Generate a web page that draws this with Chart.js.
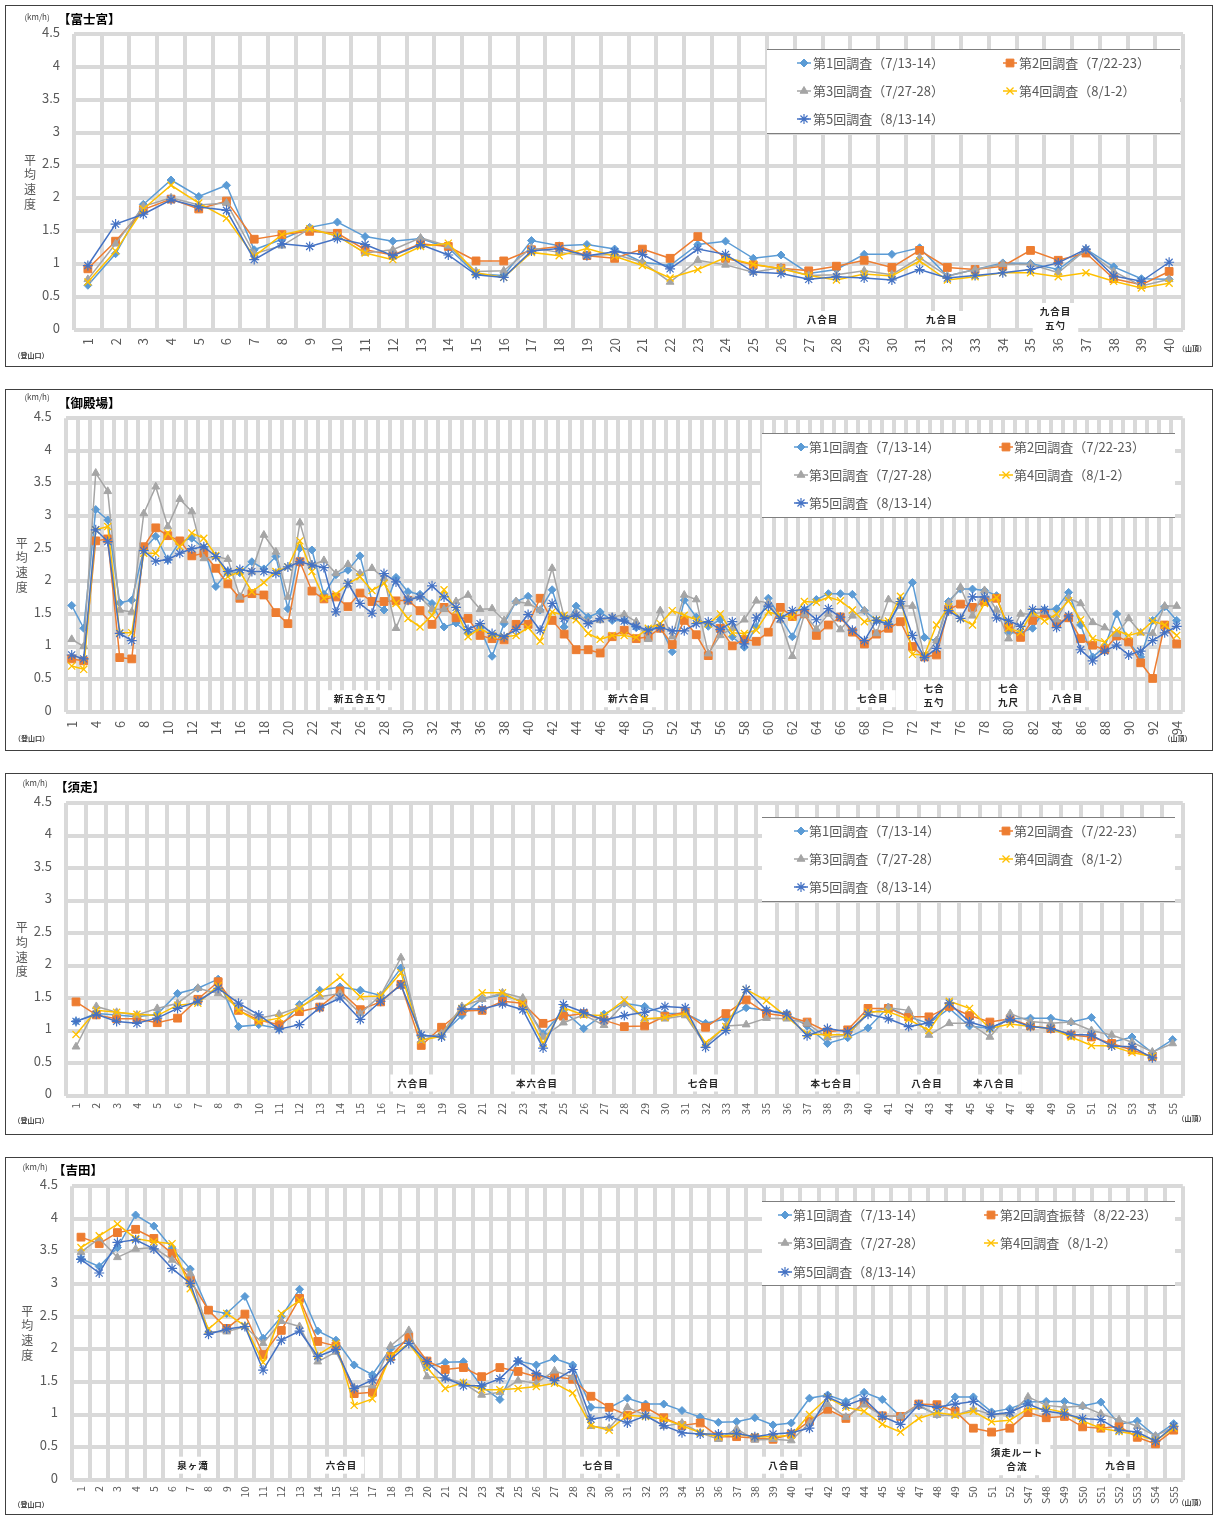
<!DOCTYPE html>
<html>
<head>
<meta charset="utf-8">
<script src="https://cdn.jsdelivr.net/npm/chart.js@4.4.1/dist/chart.umd.min.js"></script>
<style>
  html, body { margin: 0; padding: 0; background: #fff; }
  body { width: 1213px; height: 1515px; position: relative; overflow: hidden; }
  .panel { position: absolute; left: 5px; width: 1208px; height: 362px; border: 1px solid #404040; box-sizing: border-box; background: #fff; }
  .panel canvas { position: absolute; left: 0; top: 0; }
</style>
</head>
<body>
<div class="panel" style="top:5px"><canvas id="c1" width="1206" height="360"></canvas></div>
<div class="panel" style="top:389px"><canvas id="c2" width="1206" height="360"></canvas></div>
<div class="panel" style="top:773px"><canvas id="c3" width="1206" height="360"></canvas></div>
<div class="panel" style="top:1157px;height:358px"><canvas id="c4" width="1206" height="356"></canvas></div>
<script>
// ---- legend names ----
const namesA = ['第1回調査（7/13-14）', '第2回調査（7/22-23）', '第3回調査（7/27-28）', '第4回調査（8/1-2）', '第5回調査（8/13-14）'];
const namesYoshida = ['第1回調査（7/13-14）', '第2回調査振替（8/22-23）', '第3回調査（7/27-28）', '第4回調査（8/1-2）', '第5回調査（8/13-14）'];

// ---- 富士宮 ----
const fujiLabels = ['1','2','3','4','5','6','7','8','9','10','11','12','13','14','15','16','17','18','19','20',
  '21','22','23','24','25','26','27','28','29','30','31','32','33','34','35','36','37','38','39','40'];
const fujiS1 = [0.68,1.16,1.91,2.28,2.03,2.2,1.22,1.38,1.56,1.64,
  1.42,1.35,1.39,1.25,0.85,0.83,1.36,1.28,1.3,1.23,
  1.03,0.98,1.3,1.35,1.09,1.14,0.86,0.92,1.15,1.15,
  1.25,0.82,0.92,1.02,1.01,0.92,1.23,0.96,0.78,0.77];
const fujiS2 = [0.93,1.35,1.83,1.99,1.84,1.96,1.38,1.45,1.5,1.47,
  1.22,1.14,1.31,1.27,1.05,1.05,1.22,1.27,1.13,1.09,
  1.23,1.09,1.42,1.09,0.99,0.94,0.9,0.97,1.06,0.95,
  1.21,0.95,0.92,0.97,1.21,1.06,1.17,0.78,0.69,0.89];
const fujiS3 = [0.77,1.31,1.88,2.01,1.9,1.93,1.16,1.28,1.54,1.43,
  1.17,1.22,1.4,1.28,0.89,0.9,1.25,1.18,1.13,1.15,
  1.03,0.73,1.06,0.99,0.88,0.95,0.83,0.84,0.9,0.84,
  1.1,0.82,0.92,1.0,1.0,0.87,1.22,0.89,0.67,0.77];
const fujiS4 = [0.73,1.2,1.84,2.2,1.93,1.7,1.12,1.45,1.54,1.43,
  1.17,1.07,1.27,1.32,0.87,0.8,1.18,1.13,1.24,1.12,
  0.98,0.79,0.92,1.1,1.0,0.93,0.83,0.76,0.85,0.82,
  1.05,0.76,0.81,0.87,0.87,0.81,0.87,0.74,0.64,0.71];
const fujiS5 = [0.98,1.61,1.76,1.98,1.87,1.82,1.07,1.31,1.27,1.39,
  1.3,1.13,1.3,1.14,0.84,0.8,1.2,1.24,1.13,1.19,
  1.15,0.93,1.23,1.15,0.88,0.86,0.77,0.81,0.79,0.76,
  0.92,0.79,0.83,0.87,0.92,1.02,1.23,0.82,0.74,1.03];
const fujiMarks = [
  { at: 26.5, text: '八合目' },
  { at: 30.8, text: '九合目' },
  { at: 34.9, text: '九合目\n五勺' }
];

// ---- 御殿場 ----
const gotenLabels = ['1','2','4','5','6','7','8','9','10','11',
  '12','13','14','15','16','17','18','19','20','21',
  '22','23','24','25','26','27','28','29','30','31',
  '32','33','34','35','36','37','38','39','40','41',
  '42','43','44','45','46','47','48','49','50','51',
  '52','53','54','55','56','57','58','59','60','61',
  '62','63','64','65','66','67','68','69','70','71',
  '72','73','74','75','76','77','78','79','80','81',
  '82','83','84','85','86','87','88','89','90','91',
  '92','93','94'];
const gotenS1 = [1.63,1.28,3.1,2.94,1.67,1.71,2.49,2.69,2.33,2.61,
  2.66,2.51,1.92,2.15,2.13,2.3,2.19,2.38,1.58,2.51,
  2.48,1.8,2.1,2.17,2.39,1.7,1.56,2.06,1.84,1.8,
  1.66,1.3,1.36,1.2,1.28,0.85,1.35,1.69,1.77,1.56,
  1.87,1.3,1.62,1.45,1.53,1.4,1.4,1.29,1.25,1.31,
  0.92,1.71,1.45,1.31,1.41,1.15,0.99,1.3,1.74,1.45,
  1.15,1.56,1.72,1.81,1.81,1.8,1.55,1.4,1.35,1.66,
  1.98,1.14,1.09,1.69,1.88,1.88,1.86,1.78,1.21,1.21,
  1.28,1.56,1.58,1.83,1.33,0.84,0.99,1.5,1.07,0.84,
  1.4,1.61,1.4];
const gotenS2 = [0.81,0.78,2.62,2.65,0.83,0.81,2.53,2.82,2.7,2.62,
  2.39,2.43,2.2,1.96,1.74,1.81,1.79,1.52,1.35,2.3,
  1.85,1.73,1.76,1.61,1.82,1.69,1.69,1.7,1.71,1.55,
  1.34,1.6,1.44,1.43,1.17,1.12,1.1,1.34,1.34,1.74,
  1.4,1.19,0.95,0.95,0.9,1.15,1.25,1.12,1.15,1.28,
  1.03,1.4,1.18,0.86,1.28,1.01,1.11,1.08,1.22,1.6,
  1.46,1.5,1.17,1.33,1.45,1.22,1.04,1.19,1.28,1.38,
  1.0,0.84,0.87,1.57,1.65,1.6,1.69,1.74,1.3,1.14,
  1.4,1.5,1.35,1.44,1.12,1.02,0.95,1.16,1.07,0.75,
  0.51,1.33,1.04];
const gotenS3 = [1.11,1.0,3.66,3.38,1.56,1.53,3.04,3.45,2.84,3.26,
  3.07,2.35,2.38,2.34,1.76,2.15,2.71,2.45,1.76,2.9,
  2.25,2.32,2.12,2.26,2.12,2.2,2.05,1.28,1.74,1.76,
  1.57,1.57,1.69,1.79,1.57,1.58,1.4,1.69,1.66,1.56,
  2.2,1.45,1.51,1.38,1.4,1.45,1.49,1.38,1.11,1.55,
  1.15,1.79,1.72,0.89,1.17,1.28,1.41,1.7,1.67,1.4,
  0.85,1.49,1.27,1.5,1.26,1.47,1.55,1.2,1.72,1.62,
  1.62,0.84,1.09,1.66,1.91,1.47,1.86,1.56,1.12,1.5,
  1.5,1.53,1.41,1.74,1.66,1.37,1.29,1.19,1.43,1.21,
  1.2,1.62,1.62];
const gotenS4 = [0.7,0.65,2.79,2.84,1.21,1.21,2.43,2.43,2.74,2.53,
  2.74,2.66,2.4,2.07,2.15,1.84,1.98,2.15,2.22,2.62,
  2.15,1.74,1.8,1.96,2.07,1.86,1.97,1.66,1.43,1.3,
  1.48,1.87,1.56,1.15,1.28,1.17,1.15,1.17,1.29,1.08,
  1.53,1.48,1.41,1.2,1.11,1.17,1.17,1.14,1.28,1.35,
  1.55,1.48,1.41,1.34,1.5,1.21,1.2,1.25,1.53,1.48,
  1.45,1.69,1.68,1.76,1.7,1.56,1.38,1.41,1.39,1.77,
  0.88,0.87,1.33,1.61,1.43,1.33,1.66,1.75,1.28,1.22,
  1.53,1.39,1.5,1.7,1.41,1.12,1.07,1.25,1.17,1.22,
  1.39,1.33,1.17];
const gotenS5 = [0.87,0.81,2.79,2.61,1.2,1.09,2.47,2.31,2.33,2.43,
  2.5,2.53,2.38,2.15,2.18,2.15,2.15,2.12,2.22,2.3,
  2.25,2.21,1.53,1.97,1.66,1.51,2.12,1.99,1.71,1.76,
  1.93,1.76,1.6,1.26,1.35,1.2,1.15,1.26,1.49,1.25,
  1.66,1.43,1.48,1.35,1.43,1.44,1.39,1.31,1.25,1.29,
  1.24,1.24,1.35,1.38,1.26,1.38,1.04,1.44,1.62,1.43,
  1.55,1.57,1.41,1.58,1.45,1.25,1.09,1.4,1.34,1.69,
  1.17,0.83,0.97,1.55,1.43,1.76,1.76,1.44,1.4,1.31,
  1.57,1.57,1.29,1.47,0.95,0.78,0.93,1.02,0.87,0.93,
  1.09,1.21,1.31];
const gotenMarks = [
  { at: 24, text: '新五合五勺' },
  { at: 46.4, text: '新六合目' },
  { at: 66.7, text: '七合目' },
  { at: 71.8, text: '七合\n五勺' },
  { at: 78, text: '七合\n九尺' },
  { at: 82.9, text: '八合目' }
];

// ---- 須走 ----
const subaLabels = ['1','2','3','4','5','6','7','8','9','10','11','12','13','14','15','16','17','18','19','20',
  '21','22','23','24','25','26','27','28','29','30','31','32','33','34','35','36','37','38','39','40',
  '41','42','43','44','45','46','47','48','49','50','51','52','53','54','55'];
const subaS1 = [1.14,1.26,1.24,1.21,1.25,1.57,1.65,1.79,1.06,1.09,
  1.03,1.4,1.62,1.67,1.62,1.54,1.96,0.91,0.93,1.23,
  1.49,1.55,1.44,0.95,1.31,1.03,1.25,1.42,1.37,1.26,
  1.26,1.11,1.18,1.35,1.31,1.26,1.07,0.8,0.89,1.04,
  1.36,1.21,1.11,1.34,1.07,1.03,1.18,1.19,1.19,1.13,
  1.2,0.82,0.9,0.66,0.86];
const subaS2 = [1.44,1.24,1.18,1.18,1.12,1.19,1.48,1.75,1.31,1.16,
  1.09,1.29,1.36,1.61,1.32,1.44,1.71,0.77,1.05,1.3,
  1.31,1.45,1.42,1.11,1.22,1.26,1.16,1.06,1.07,1.22,
  1.28,1.05,1.26,1.47,1.26,1.22,1.13,0.98,1.01,1.34,
  1.34,1.21,1.21,1.37,1.23,1.13,1.18,1.07,1.03,0.93,
  0.9,0.8,0.7,0.6,null];
const subaS3 = [0.75,1.37,1.28,1.24,1.34,1.42,1.65,1.57,1.36,1.19,
  1.25,1.36,1.52,1.57,1.26,1.54,2.12,0.85,0.95,1.37,
  1.48,1.58,1.5,0.9,1.12,1.24,1.08,1.42,1.18,1.18,
  1.23,0.77,1.07,1.09,1.19,1.18,1.11,0.89,0.93,1.26,
  1.35,1.31,0.93,1.11,1.11,0.9,1.26,1.14,1.11,1.13,
  1.0,0.93,0.82,0.67,0.8];
const subaS4 = [0.94,1.31,1.28,1.25,1.23,1.39,1.42,1.69,1.31,1.13,
  1.19,1.34,1.57,1.82,1.52,1.53,1.89,0.85,0.91,1.34,
  1.58,1.58,1.42,0.8,1.35,1.24,1.23,1.47,1.18,1.2,
  1.26,0.81,1.06,1.63,1.46,1.21,0.95,0.93,0.94,1.29,
  1.29,1.17,1.0,1.45,1.34,1.03,1.1,1.06,1.03,0.9,
  0.77,0.76,0.66,0.6,null];
const subaS5 = [1.14,1.25,1.14,1.11,1.19,1.34,1.45,1.65,1.42,1.24,
  1.02,1.09,1.35,1.5,1.17,1.45,1.7,0.93,0.9,1.33,
  1.33,1.41,1.32,0.73,1.4,1.28,1.16,1.23,1.28,1.37,
  1.35,0.74,1.0,1.63,1.31,1.25,0.92,1.03,0.98,1.25,
  1.18,1.06,1.12,1.42,1.13,1.04,1.17,1.06,1.03,0.94,
  0.93,0.76,0.75,0.58,null];
const subaMarks = [
  { at: 16.6, text: '六合目' },
  { at: 22.7, text: '本六合目' },
  { at: 30.9, text: '七合目' },
  { at: 37.2, text: '本七合目' },
  { at: 41.9, text: '八合目' },
  { at: 45.2, text: '本八合目' }
];

// ---- 吉田 ----
const yoshiLabels = ['1','2','3','4','5','6','7','8','9','10','11','12','13','14','15','16','17','18','19','20',
  '21','22','23','24','25','26','27','28','29','30','31','32','33','34','35','36','37','38','39','40',
  '41','42','43','44','45','46','47','48','49','50','51','52',
  'S47','S48','S49','S50','S51','S52','S53','S54','S55'];
const yoshiS1 = [3.39,3.27,3.56,4.06,3.89,3.55,3.23,2.6,2.55,2.81,
  2.17,2.5,2.92,2.28,2.14,1.76,1.61,2.01,2.14,1.73,
  1.8,1.81,1.43,1.23,1.82,1.76,1.86,1.76,1.11,1.1,
  1.25,1.16,1.16,1.06,0.96,0.88,0.89,0.95,0.84,0.87,
  1.25,1.3,1.2,1.34,1.23,0.97,1.13,1.0,1.27,1.27,
  1.04,1.09,1.19,1.2,1.2,1.13,1.19,0.85,0.9,0.67,0.86];
const yoshiS2 = [3.72,3.62,3.79,3.84,3.7,3.47,3.06,2.6,2.32,2.54,
  1.92,2.29,2.78,2.12,2.05,1.32,1.34,1.89,2.19,1.82,
  1.69,1.72,1.58,1.72,1.66,1.58,1.58,1.54,1.28,1.11,
  0.99,1.11,0.95,0.83,0.87,0.66,0.66,0.64,0.62,0.7,
  0.9,1.08,0.94,1.18,0.98,0.97,1.16,1.15,1.05,0.79,
  0.73,0.79,1.03,0.95,0.97,0.81,0.79,0.82,0.65,0.55,0.76];
const yoshiS3 = [3.49,3.7,3.41,3.54,3.56,3.37,3.16,2.27,2.27,2.35,
  2.09,2.43,2.35,1.81,1.96,1.41,1.44,2.05,2.29,1.58,
  1.56,1.48,1.3,1.34,1.52,1.48,1.67,1.57,0.82,0.79,
  1.11,0.99,0.82,0.87,0.72,0.62,0.78,0.61,0.62,0.6,
  0.87,1.16,0.96,1.15,0.98,0.97,1.15,0.99,0.99,1.08,
  1.0,1.0,1.27,1.14,1.11,1.13,1.01,0.92,0.82,0.67,0.81];
const yoshiS4 = [3.56,3.74,3.92,3.7,3.65,3.62,2.93,2.31,2.55,2.36,
  1.8,2.55,2.75,1.91,2.09,1.14,1.24,1.9,2.09,1.72,
  1.4,1.49,1.38,1.38,1.4,1.43,1.48,1.33,0.83,0.76,
  0.99,0.97,0.93,0.83,0.72,0.66,0.7,0.66,0.66,0.68,
  1.0,1.26,1.11,1.05,0.85,0.73,0.94,1.03,0.99,1.05,
  0.89,0.91,1.09,1.09,1.03,0.9,0.79,0.74,0.69,0.6,0.79];
const yoshiS5 = [3.38,3.17,3.64,3.68,3.54,3.24,3.01,2.23,2.31,2.35,
  1.68,2.14,2.28,1.89,2.0,1.4,1.53,1.84,2.09,1.81,
  1.56,1.44,1.44,1.55,1.82,1.63,1.52,1.69,0.93,0.97,
  0.87,0.98,0.83,0.72,0.7,0.7,0.71,0.66,0.7,0.72,
  0.79,1.27,1.14,1.24,0.97,0.85,1.15,1.11,1.16,1.2,
  1.0,1.03,1.16,1.05,1.01,0.94,0.92,0.76,0.73,0.59,0.82];
const yoshiMarks = [
  { at: 6.15, text: '泉ヶ滝' },
  { at: 14.3, text: '六合目' },
  { at: 28.4, text: '七合目' },
  { at: 38.6, text: '八合目' },
  { at: 51.4, text: '須走ルート\n合流' },
  { at: 57.1, text: '九合目' }
];

// ---- styles ----
const FONT = '"Noto Sans CJK JP", "Noto Sans", sans-serif';
Chart.defaults.font.family = FONT;
Chart.defaults.color = '#595959';

const seriesStyles = [
  { color: '#5B9BD5', point: 'rectRot', radius: 4, pbw: 1 },
  { color: '#ED7D31', point: 'rect', radius: 5.5, pbw: 1 },
  { color: '#A5A5A5', point: 'triangle', radius: 4.5, pbw: 1 },
  { color: '#FFC000', point: 'crossRot', radius: 5, pbw: 1.3 },
  { color: '#4472C4', point: 'star', radius: 5, pbw: 1.2 }
];

function drawMarker(ctx, st, x, y) {
  ctx.save();
  ctx.fillStyle = st.color;
  ctx.strokeStyle = st.color;
  ctx.lineWidth = st.pbw;
  Chart.helpers.drawPoint(ctx, { pointStyle: st.point, radius: st.radius, rotation: 0, borderWidth: st.pbw }, x, y);
  ctx.restore();
}

function buildPanel(p) {
  const canvas = document.getElementById(p.canvas);
  const W = canvas.width, H = canvas.height;
  const a = p.area;

  const decor = {
    id: 'decor',
    beforeDatasetsDraw(chart) {
      const ctx = chart.ctx, xs = chart.scales.x, area = chart.chartArea;
      ctx.save();
      // landmark labels
      ctx.font = 'bold 9.5px ' + FONT;
      ctx.textAlign = 'center';
      ctx.textBaseline = 'middle';
      if ('letterSpacing' in ctx) ctx.letterSpacing = '1px';
      p.marks.forEach(m => {
        const lines = m.text.split('\n');
        const x = xs.getPixelForValue(m.at);
        const lh = 14;
        const cy = area.bottom - (lines.length > 1 ? p.markDy[1] : p.markDy[0]);
        const w = Math.max(...lines.map(s => ctx.measureText(s).width));
        const h = lines.length * lh + 3;
        ctx.fillStyle = '#fff';
        ctx.fillRect(x - w / 2 - 7, cy - h / 2, w + 14, h);
        ctx.fillStyle = '#262626';
        lines.forEach((s, k) => ctx.fillText(s, x, cy + (k - (lines.length - 1) / 2) * lh));
      });
      if ('letterSpacing' in ctx) ctx.letterSpacing = '0px';

      // legend box
      const lg = p.legend;
      ctx.fillStyle = '#fff';
      ctx.fillRect(lg.x0, lg.y0, lg.x1 - lg.x0, lg.y1 - lg.y0);
      ctx.strokeStyle = '#7f7f7f';
      ctx.lineWidth = 1;
      ctx.beginPath();
      ctx.moveTo(lg.x0, lg.y0 + 0.5); ctx.lineTo(lg.x1, lg.y0 + 0.5);
      ctx.moveTo(lg.x0, lg.y1 - 0.5); ctx.lineTo(lg.x1, lg.y1 - 0.5);
      ctx.stroke();
      ctx.font = '13px ' + FONT;
      ctx.textAlign = 'left';
      ctx.textBaseline = 'middle';
      p.names.forEach((name, i) => {
        const st = seriesStyles[i];
        const col = lg.cols[i % 2], y = lg.rows[Math.floor(i / 2)];
        ctx.strokeStyle = st.color;
        ctx.lineWidth = 1.5;
        ctx.beginPath();
        ctx.moveTo(col[0] - 7, y); ctx.lineTo(col[0] + 7, y);
        ctx.stroke();
        drawMarker(ctx, st, col[0], y);
        ctx.fillStyle = '#595959';
        ctx.fillText(name, col[1], y);
      });
      ctx.restore();
    },
    afterDraw(chart) {
      const ctx = chart.ctx, t = p.text;
      ctx.save();
      ctx.textBaseline = 'middle';
      ctx.textAlign = 'left';
      ctx.fillStyle = '#000';
      ctx.font = 'bold 12.5px ' + FONT;
      ctx.fillText(p.title, t.title[0], t.title[1]);
      ctx.textAlign = 'center';
      ctx.fillStyle = '#404040';
      ctx.font = '8px ' + FONT;
      ctx.fillText('(km/h)', t.kmh[0], t.kmh[1]);
      ctx.font = 'bold 7px ' + FONT;
      ctx.fillText('（登山口）', t.start[0], t.start[1]);
      ctx.fillText('（山頂）', t.end[0], t.end[1]);
      ctx.fillStyle = '#595959';
      ctx.font = '12px ' + FONT;
      ['平', '均', '速', '度'].forEach((c, k) => ctx.fillText(c, t.axis[0], t.axis[1] + k * 14.7));
      ctx.restore();
    }
  };

  const datasets = p.series.map((data, i) => {
    const st = seriesStyles[i];
    return {
      label: p.names[i],
      data: data,
      borderColor: st.color,
      backgroundColor: st.color,
      borderWidth: 1.5,
      pointStyle: st.point,
      pointRadius: st.radius,
      pointBackgroundColor: st.color,
      pointBorderColor: st.color,
      pointBorderWidth: st.pbw,
      tension: 0,
      fill: false,
      order: 4 - i
    };
  });

  return new Chart(canvas.getContext('2d'), {
    type: 'line',
    data: { labels: p.labels, datasets: datasets },
    options: {
      responsive: false,
      animation: false,
      devicePixelRatio: 1,
      events: [],
      layout: { autoPadding: false, padding: { left: 0, top: a.top, right: W - a.right, bottom: 0 } },
      plugins: { legend: { display: false }, tooltip: { enabled: false } },
      scales: {
        x: {
          type: 'category',
          offset: true,
          grid: { offset: true, color: '#d9d9d9', lineWidth: 4, drawTicks: false },
          border: { display: false },
          ticks: {
            autoSkip: false,
            maxRotation: 90,
            minRotation: 90,
            padding: p.xPad,
            color: '#595959',
            font: { size: p.xFont },
            callback: function (value, index) {
              return index % p.skip === 0 ? this.getLabelForValue(value) : '';
            }
          },
          afterFit: function (scale) { scale.height = H - a.bottom; }
        },
        y: {
          min: 0,
          max: 4.5,
          grid: { color: '#d9d9d9', lineWidth: 4, drawTicks: false },
          border: { display: false },
          ticks: {
            stepSize: 0.5,
            padding: 14,
            labelOffset: -2,
            color: '#595959',
            font: { size: 13 },
            callback: v => String(v)
          },
          afterFit: function (scale) { scale.width = a.left; }
        }
      }
    },
    plugins: [decor]
  });
}

const stdLegend = { x0: 756, x1: 1169, y0: 43, y1: 128, rows: [57, 85, 113], cols: [[795, 803], [1000, 1008]] };

buildPanel({
  canvas: 'c1', title: '【富士宮】', labels: fujiLabels, names: namesA,
  series: [fujiS1, fujiS2, fujiS3, fujiS4, fujiS5], marks: fujiMarks,
  area: { left: 68, right: 1177, top: 28, bottom: 324 }, xFont: 13, xPad: 8, skip: 1,
  markDy: [10.5, 11.5],
  text: { title: [52, 13], kmh: [31, 11], axis: [24, 154], start: [25, 349], end: [1186, 342] },
  legend: { x0: 761, x1: 1174, y0: 43, y1: 128, rows: [57, 85, 113], cols: [[798, 807], [1004, 1013]] }
});

buildPanel({
  canvas: 'c2', title: '【御殿場】', labels: gotenLabels, names: namesA,
  series: [gotenS1, gotenS2, gotenS3, gotenS4, gotenS5], marks: gotenMarks,
  area: { left: 59.7, right: 1176.7, top: 28.3, bottom: 321.7 }, xFont: 13, xPad: 9, skip: 2,
  markDy: [13, 16],
  text: { title: [52, 13], kmh: [31, 7], axis: [15.7, 153], start: [25.5, 348], end: [1171.5, 348] },
  legend: stdLegend
});

buildPanel({
  canvas: 'c3', title: '【須走】', labels: subaLabels, names: namesA,
  series: [subaS1, subaS2, subaS3, subaS4, subaS5], marks: subaMarks,
  area: { left: 59.85, right: 1176.8, top: 29, bottom: 321.5 }, xFont: 10.5, xPad: 7.5, skip: 1,
  markDy: [12.5, 16],
  text: { title: [49, 13], kmh: [29, 9], axis: [15.7, 153.7], start: [25, 346], end: [1185.5, 344] },
  legend: stdLegend
});

buildPanel({
  canvas: 'c4', title: '【吉田】', labels: yoshiLabels, names: namesYoshida,
  series: [yoshiS1, yoshiS2, yoshiS3, yoshiS4, yoshiS5], marks: yoshiMarks,
  area: { left: 65.9, right: 1176.8, top: 28.3, bottom: 321.7 }, xFont: 10.5, xPad: 6.5, skip: 1,
  markDy: [14.5, 20],
  text: { title: [47, 12], kmh: [29, 9], axis: [21.3, 153], start: [25, 346], end: [1185.5, 344] },
  legend: { x0: 756, x1: 1169, y0: 43, y1: 128, rows: [57, 85, 114], cols: [[779, 787], [985, 994]] }
});
</script>
</body>
</html>
